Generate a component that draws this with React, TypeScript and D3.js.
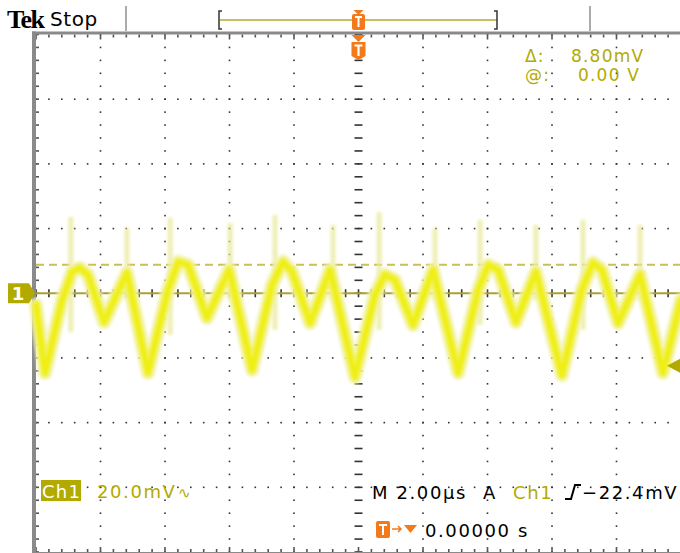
import { useEffect, useRef } from "react";
import * as d3 from "d3";

// trace key points (time in µs, level in mV)
const TIME = [
  -10.0, -9.72, -9.19, -8.88, -8.64, -8.39, -7.89, -7.18, -6.53, -5.91, -5.59,
  -5.28, -4.7, -4.01, -3.3, -2.68, -2.34, -2.06, -1.5, -0.88, -0.11, 0.51, 0.82,
  1.13, 1.69, 2.31, 3.09, 3.71, 4.02, 4.33, 4.88, 5.5, 6.31, 6.92, 7.27, 7.55,
  8.05, 8.73, 9.44, 10.0,
];
const VOLT = [
  -3.6, -24.6, -2.1, 6.6, 7.8, 5.7, -8.9, 6.3, -24.6, 1.0, 9.7, 8.7, -7.6, 7.2,
  -23.7, 2.6, 9.7, 6.6, -9.2, 7.2, -25.9, -0.5, 5.7, 4.1, -9.8, 7.2, -24.6, 1.0,
  8.7, 7.2, -8.9, 6.6, -25.3, 1.0, 9.4, 7.2, -9.2, 5.7, -24.6, -2.1,
];

// glitch spikes on the persistence display
const SPIKE_T = [-8.92, -7.18, -5.84, -3.98, -2.59, -0.79, 0.64, 2.37, 3.77, 5.5, 6.96, 8.73];
const SPIKE_TOP = [23.6, 20.2, 23.3, 21.7, 24.2, 21.1, 25.1, 20.2, 22.7, 21.1, 22.7, 21.1];
const SPIKE_BOTTOM = [-12.0, -2.1, -12.9, -2.1, -11.3, -2.1, -11.3, -2.1, -9.8, -2.1, -11.3, -2.1];

const CURSOR_MV = 8.8;
const TRIGGER_MV = -22.4;
const X_DIVS = 10;
const Y_DIVS = 8;

const W = 680;
const H = 553;
const OLIVE = "#b3aa00";
const ORANGE = "#f27a1a";
const FONT = "DejaVu Sans, sans-serif";

const App = () => {
  const svgRef = useRef(null);

  useEffect(() => {
    const svg = d3.select(svgRef.current);
    svg.selectAll("*").remove();

    const x = d3.scaleLinear().domain([-10, 10]).range([36, 681]);
    const y = d3.scaleLinear().domain([-80, 80]).range([552, 34.5]);
    const dx = (x(10) - x(-10)) / X_DIVS;
    const dy = (y(-80) - y(80)) / Y_DIVS;

    const defs = svg.append("defs");
    defs.append("filter").attr("id", "glow").attr("x", "-5%").attr("y", "-20%").attr("width", "110%").attr("height", "140%")
      .append("feGaussianBlur").attr("stdDeviation", 1.3);
    defs.append("filter").attr("id", "soft").attr("x", "-50%").attr("y", "-5%").attr("width", "200%").attr("height", "110%")
      .append("feGaussianBlur").attr("stdDeviation", 1.6);

    svg.append("rect").attr("width", W).attr("height", H).attr("fill", "#fff");

    // dotted graticule
    const dots = svg.append("g").attr("fill", "#333");
    for (let i = 1; i < X_DIVS; i++) {
      if (i === 5) continue;
      for (let k = 0; k <= Y_DIVS * 5; k++)
        dots.append("rect").attr("x", x(-10) + i * dx - 0.8).attr("y", y(80) + (k * dy) / 5 - 0.8).attr("width", 1.6).attr("height", 1.6);
    }
    for (let j = 1; j < Y_DIVS; j++) {
      if (j === 4) continue;
      for (let k = 0; k <= X_DIVS * 5; k++)
        dots.append("rect").attr("x", x(-10) + (k * dx) / 5 - 0.8).attr("y", y(80) + j * dy - 0.8).attr("width", 1.6).attr("height", 1.6);
    }
    // center cross ticks
    for (let k = 0; k <= X_DIVS * 5; k++) {
      const xx = x(-10) + (k * dx) / 5;
      dots.append("rect").attr("x", xx - 0.8).attr("y", y(0) - 4).attr("width", 1.6).attr("height", 8);
    }
    for (let k = 0; k <= Y_DIVS * 5; k++) {
      const yy = y(80) + (k * dy) / 5;
      dots.append("rect").attr("x", x(0) - 4).attr("y", yy - 0.8).attr("width", 8).attr("height", 1.6);
    }
    // edge rulers
    const ruler = svg.append("g").attr("fill", "#555");
    for (let k = 0; k <= X_DIVS * 5; k++) {
      const xx = x(-10) + (k * dx) / 5;
      ruler.append("rect").attr("x", xx - 0.8).attr("y", y(80)).attr("width", 1.6).attr("height", k % 5 === 0 ? 5 : 3);
      ruler.append("rect").attr("x", xx - 0.8).attr("y", y(-80) - (k % 5 === 0 ? 5 : 3)).attr("width", 1.6).attr("height", k % 5 === 0 ? 5 : 3);
    }
    for (let k = 0; k <= Y_DIVS * 5; k++) {
      const yy = y(80) + (k * dy) / 5;
      ruler.append("rect").attr("x", x(-10)).attr("y", yy - 0.8).attr("width", 3).attr("height", 1.6);
    }
    svg.append("rect").attr("x", 32).attr("y", 31.5).attr("width", W - 32).attr("height", 3).attr("fill", "#8a8a8a");
    svg.append("rect").attr("x", 32).attr("y", 31.5).attr("width", 4).attr("height", H).attr("fill", "#8a8a8a");
    svg.append("rect").attr("x", 32).attr("y", y(-80)).attr("width", W - 32).attr("height", 2).attr("fill", "#8a8a8a");

    // reference lines
    svg.append("line").attr("x1", x(-10)).attr("x2", x(10)).attr("y1", y(0)).attr("y2", y(0))
      .attr("stroke", "#aaa030").attr("stroke-width", 2);
    svg.append("line").attr("x1", x(-10)).attr("x2", x(10)).attr("y1", y(CURSOR_MV)).attr("y2", y(CURSOR_MV))
      .attr("stroke", "#c9c055").attr("stroke-width", 2).attr("stroke-dasharray", "8,5");

    // spikes
    svg.append("g").attr("filter", "url(#soft)").selectAll("line").data(SPIKE_T).join("line")
      .attr("x1", (d) => x(d)).attr("x2", (d) => x(d))
      .attr("y1", (_, i) => y(SPIKE_TOP[i])).attr("y2", (_, i) => y(SPIKE_BOTTOM[i]))
      .attr("stroke", "#e8e89a").attr("stroke-width", 5).attr("opacity", 0.75);

    // trace with persistence glow
    const pts = TIME.map((t, i) => [t, VOLT[i]]);
    const line = d3.line().x((d) => x(d[0])).y((d) => y(d[1]));
    const trace = svg.append("g").attr("stroke-linejoin", "round").attr("stroke-linecap", "round").attr("fill", "none")
      .attr("filter", "url(#glow)");
    trace.append("path").attr("d", line(pts)).attr("stroke", "#f2f2b4").attr("stroke-width", 15).attr("opacity", 0.75);
    trace.append("path").attr("d", line(pts)).attr("stroke", "#f2f25a").attr("stroke-width", 10);
    trace.append("path").attr("d", line(pts)).attr("stroke", "#efef12").attr("stroke-width", 5);

    // channel marker and trigger arrow
    const cy = y(0);
    svg.append("path").attr("d", `M8,${cy - 10} L29,${cy - 10} L35,${cy} L29,${cy + 10} L8,${cy + 10} Z`).attr("fill", OLIVE);
    svg.append("text").attr("x", 18).attr("y", cy + 7).attr("text-anchor", "middle").attr("fill", "#fff")
      .attr("font-family", FONT).attr("font-weight", "bold").attr("font-size", 18).text("1");
    const ty = y(TRIGGER_MV);
    svg.append("path").attr("d", `M667,${ty} L680,${ty - 7} L680,${ty + 7} Z`).attr("fill", OLIVE);

    // header
    svg.append("text").attr("x", 7).attr("y", 28).attr("font-family", "Liberation Serif, serif").attr("font-weight", "bold")
      .attr("font-size", 26).attr("fill", "#000").attr("letter-spacing", -1.5).text("Tek");
    svg.append("text").attr("x", 50).attr("y", 26).attr("font-family", FONT).attr("font-size", 20).attr("letter-spacing", 0.6)
      .attr("fill", "#000").text("Stop");
    [126, 590].forEach((xx) =>
      svg.append("line").attr("x1", xx).attr("x2", xx).attr("y1", 6).attr("y2", 31).attr("stroke", "#909090").attr("stroke-width", 1.5)
    );
    svg.append("line").attr("x1", 220).attr("x2", 497).attr("y1", 20).attr("y2", 20).attr("stroke", "#c8c060").attr("stroke-width", 2);
    svg.append("path").attr("d", "M222,11 L219,11 L219,29 L222,29").attr("fill", "none").attr("stroke", "#333").attr("stroke-width", 1.5);
    svg.append("path").attr("d", "M494,11 L497,11 L497,29 L494,29").attr("fill", "none").attr("stroke", "#333").attr("stroke-width", 1.5);

    const tx = x(0);
    svg.append("path").attr("d", `M${tx - 5},10 L${tx + 5},10 L${tx},15 Z`).attr("fill", ORANGE);
    svg.append("rect").attr("x", tx - 6.5).attr("y", 14).attr("width", 13).attr("height", 16).attr("rx", 2).attr("fill", ORANGE);
    svg.append("path").attr("d", `M${tx - 3.5},17 H${tx + 3.5} M${tx},17 V27`).attr("stroke", "#fff").attr("stroke-width", 2);
    svg.append("path").attr("d", `M${tx - 7},35 L${tx + 7},35 L${tx},42 Z`).attr("fill", ORANGE);
    svg.append("path").attr("d", `M${tx - 7},42 H${tx + 7} V56 L${tx},60 L${tx - 7},56 Z`).attr("fill", ORANGE);
    svg.append("path").attr("d", `M${tx - 4},45.5 H${tx + 4} M${tx},45.5 V56`).attr("stroke", "#fff").attr("stroke-width", 2.2);

    // readouts
    const txt = (xx: number, yy: number, s: string, fill: string, size = 18, ls = 1.6) =>
      svg.append("text").attr("x", xx).attr("y", yy).attr("font-family", FONT).attr("font-size", size)
        .attr("letter-spacing", ls).attr("fill", fill).text(s);

    txt(525, 62, "Δ:", OLIVE, 17, 1.2);
    txt(571, 62, "8.80mV", OLIVE, 17, 1.2);
    txt(525, 81, "@:", OLIVE, 17, 1.2);
    txt(578, 81, "0.00 V", OLIVE, 17, 1.2);

    svg.append("rect").attr("x", 41).attr("y", 480).attr("width", 40).attr("height", 21).attr("fill", OLIVE);
    txt(42, 498, "Ch1", "#fff", 18, 1.2);
    txt(97, 498, "20.0mV", OLIVE);
    txt(178, 498, "∿", OLIVE, 15, 0);

    txt(372, 499, "M 2.00µs", "#000");
    txt(483, 499, "A", "#000");
    txt(513, 499, "Ch1", OLIVE);
    svg.append("path").attr("d", "M565,499 L571,499 L575,485 L581,485").attr("fill", "none").attr("stroke", "#000").attr("stroke-width", 2);
    txt(582, 499, "−22.4mV", "#000");

    svg.append("rect").attr("x", 376).attr("y", 521).attr("width", 14).attr("height", 17).attr("rx", 2).attr("fill", ORANGE);
    svg.append("path").attr("d", "M379,525 H387 M383,525 V535").attr("stroke", "#fff").attr("stroke-width", 2);
    svg.append("path").attr("d", "M392,529 H401 M398,526 L401,529 L398,532").attr("fill", "none").attr("stroke", ORANGE).attr("stroke-width", 1.5);
    svg.append("path").attr("d", "M404,525 L417,525 L410.5,533 Z").attr("fill", ORANGE);
    txt(425, 537, "0.00000 s", "#000");
  }, []);

  return (
    <svg
      ref={svgRef}
      width={W}
      height={H}
      style={{ position: "absolute", left: 0, top: 0, display: "block" }}
    ></svg>
  );
};

export default App;
